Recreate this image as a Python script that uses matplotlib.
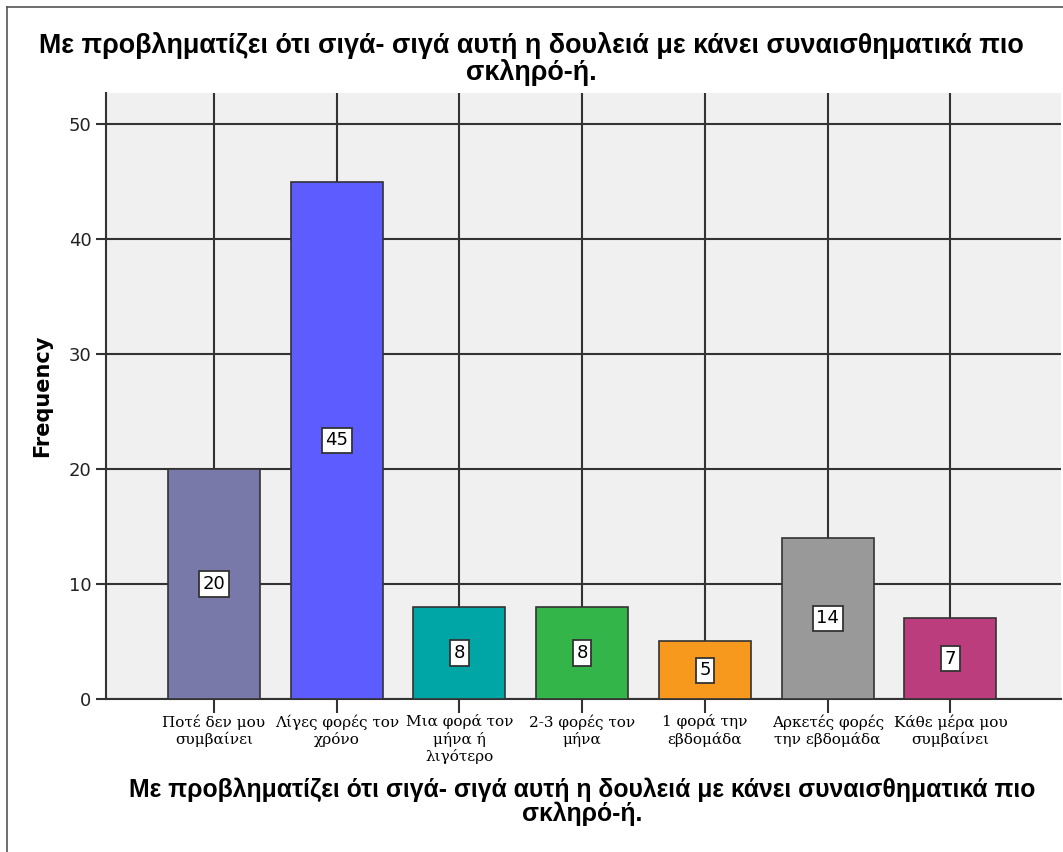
import matplotlib
matplotlib.use("Agg")
import matplotlib.pyplot as plt
from matplotlib.lines import Line2D

TITLE = "Με προβληματίζει ότι σιγά- σιγά αυτή η δουλειά με κάνει συναισθηματικά πιο\nσκληρό-ή."
CATEGORIES = ["Ποτέ δεν μου\nσυμβαίνει", "Λίγες φορές τον\nχρόνο", "Μια φορά τον\nμήνα ή\nλιγότερο",
              "2-3 φορές τον\nμήνα", "1 φορά την\nεβδομάδα", "Αρκετές φορές\nτην εβδομάδα",
              "Κάθε μέρα μου\nσυμβαίνει"]
COUNTS = [20, 45, 8, 8, 5, 14, 7]
COLORS = ["#7979A9", "#5C5CFF", "#00A6A5", "#33B549", "#F7991D", "#999999", "#BB3D7E"]
YTICKS = [0, 10, 20, 30, 40, 50]

fig = plt.figure(figsize=(10.63, 8.52), dpi=100)
ax = fig.add_axes([0.0997, 0.1796, 0.8983, 0.7112])
ax.set_facecolor("#F0F0F0")

x = list(range(len(CATEGORIES)))
ax.set_axisbelow(True)
ax.grid(True, color="#333333", linewidth=1.5)
ax.bar(x, COUNTS, width=0.75, color=COLORS, edgecolor="#333333", linewidth=1.2, zorder=3)

for xi, v in zip(x, COUNTS):
    ax.text(xi, v / 2, str(v), ha="center", va="center", fontsize=13, zorder=4,
            bbox=dict(boxstyle="square,pad=0.2", facecolor="white", edgecolor="#333333", linewidth=1.3))

ax.set_xlim(-0.88, 6.9)
ax.set_ylim(0, 52.7)
ax.set_yticks(YTICKS)
ax.set_xticks(x)
ax.set_xticklabels(CATEGORIES, family="DejaVu Serif", fontsize=11, linespacing=1.2)
ax.tick_params(axis="x", length=10, width=1.5, color="#333333", pad=1)
ax.tick_params(axis="y", length=7, width=1.5, color="#333333", labelsize=13, labelcolor="#222222")
for side in ["top", "right"]:
    ax.spines[side].set_visible(False)
for side in ["left", "bottom"]:
    ax.spines[side].set_color("#333333")
    ax.spines[side].set_linewidth(1.5)

ax.set_ylabel("Frequency", fontsize=15, fontweight="bold", labelpad=12)

fig.text(0.50, 0.963, TITLE, ha="center", va="top", fontsize=19.4, fontweight="bold",
         family="Liberation Sans", linespacing=1.02)
fig.text(0.548, 0.030, TITLE, ha="center", va="bottom", fontsize=17.8, fontweight="bold",
         family="Liberation Sans", linespacing=1.0)

# outer frame (left and top edges of the original export)
fig.add_artist(Line2D([0.007, 0.007], [0, 0.992], transform=fig.transFigure, color="#555555", linewidth=1.2))
fig.add_artist(Line2D([0.007, 1.0], [0.992, 0.992], transform=fig.transFigure, color="#555555", linewidth=1.2))

fig.savefig("out.png", dpi=100)
